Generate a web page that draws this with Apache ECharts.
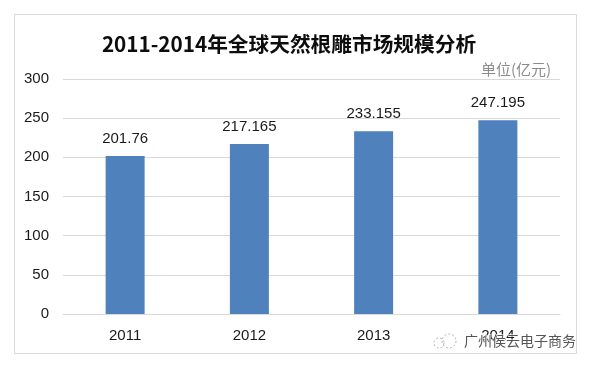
<!DOCTYPE html>
<html><head><meta charset="utf-8">
<script src="https://cdn.jsdelivr.net/npm/echarts@6/dist/echarts.min.js"></script>
<style>html,body{margin:0;padding:0;background:#fff}#c{width:593px;height:367px}</style>
</head><body><div id="c"></div>
<script>
const categories = ['2011','2012','2013','2014'];
const marketSize = [201.76,217.165,233.155,247.195];
const titleText = '2011-2014年全球天然根雕市场规模分析';
const unitText = '单位(亿元)';
const watermarkText = '广州侯云电子商务';
const font = '"Noto Sans CJK SC","Liberation Sans",sans-serif';
const latin = '"Liberation Sans","Noto Sans CJK SC",sans-serif';
const chart = echarts.init(document.getElementById('c'),null,{renderer:'canvas'});
chart.setOption({
  animation:false,
  backgroundColor:'#fff',
  title:{text:titleText,left:284,top:29,textAlign:'center',textStyle:{fontFamily:font,fontSize:20.7,fontWeight:'bold',color:'#0d0d0d'}},
  grid:{left:63,right:33,top:79,bottom:53},
  xAxis:{type:'category',data:categories,
    axisLine:{lineStyle:{color:'#d9d9d9',width:1}},axisTick:{show:false},
    axisLabel:{fontFamily:latin,fontSize:15,color:'#1a1a1a',margin:14}},
  yAxis:{type:'value',min:0,max:300,interval:50,
    axisLine:{show:false},axisTick:{show:false},
    splitLine:{lineStyle:{color:'#d9d9d9',width:1}},
    axisLabel:{fontFamily:latin,fontSize:15,color:'#1a1a1a',margin:14,padding:[4,0,0,0]}},
  series:[{type:'bar',data:marketSize,barWidth:39,
    itemStyle:{color:'#4f81bd'},
    label:{show:true,position:'top',distance:10,fontFamily:latin,fontSize:15,color:'#1a1a1a'}}],
  graphic:[
    {type:'rect',silent:true,z:-1,shape:{x:14.5,y:14.5,width:562,height:339},style:{fill:'#fff',stroke:'#d9d9d9',lineWidth:1}},
    {type:'text',silent:true,x:481,y:62,style:{text:unitText,fontFamily:font,fontSize:15,fill:'#8c8c8c'}},
    {type:'circle',silent:true,z:10,shape:{cx:449,cy:341,r:7},style:{fill:'none',stroke:'#b5b5b5',lineWidth:1,lineDash:[2,2]}},
    {type:'circle',silent:true,z:10,shape:{cx:439,cy:343,r:5},style:{fill:'none',stroke:'#b5b5b5',lineWidth:1,lineDash:[2,2]}},
    {type:'text',silent:true,z:10,x:464,y:334,style:{text:watermarkText,fontFamily:font,fontSize:14,fill:'#555555',stroke:'#ffffff',lineWidth:1}}
  ]
});
</script></body></html>
